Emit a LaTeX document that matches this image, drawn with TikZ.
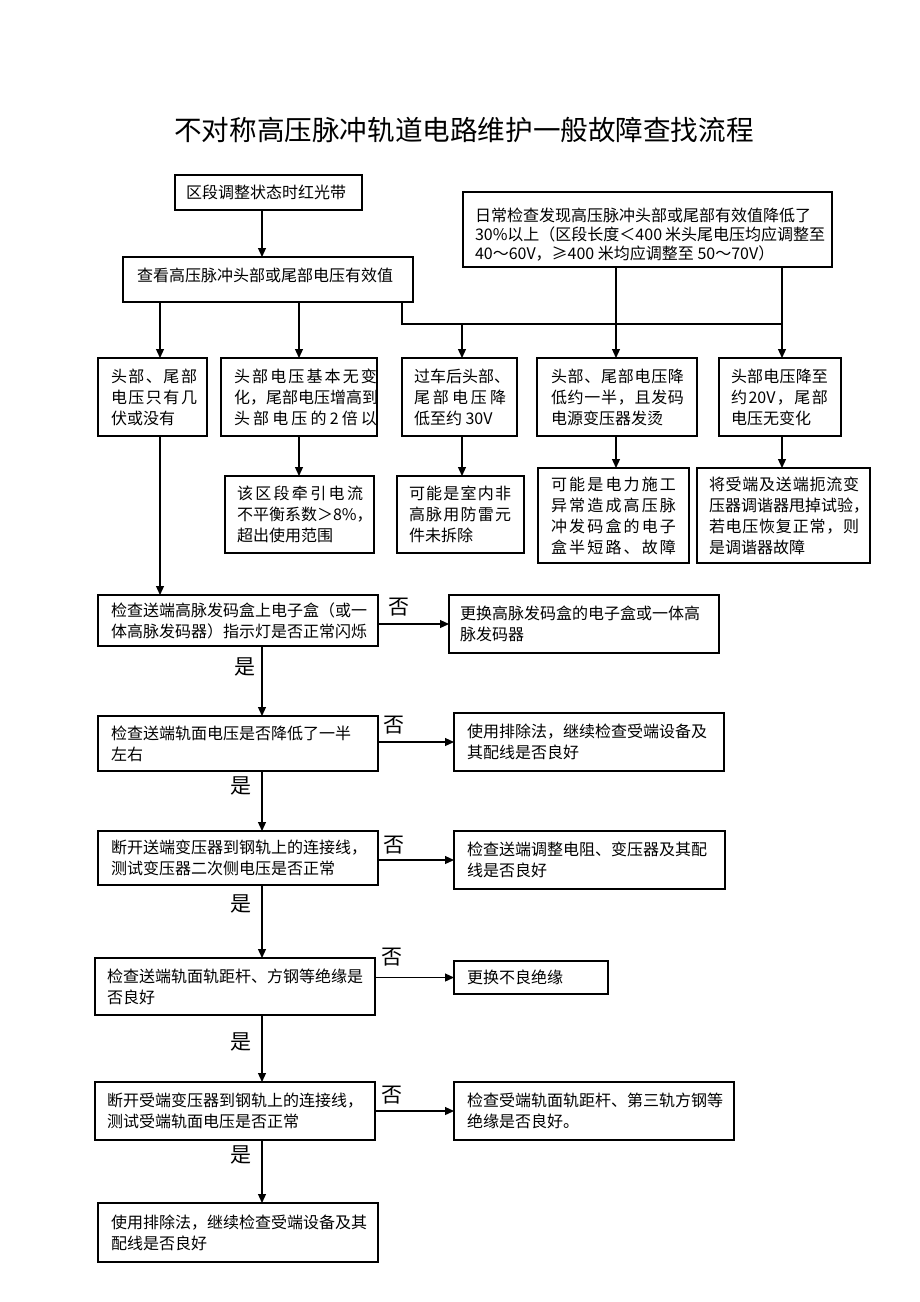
\documentclass[tikz,border=0pt]{standalone}
\usepackage{fontspec}
\setmainfont{Noto Sans CJK SC}
\usetikzlibrary{arrows.meta}
\makeatletter
\def\jl#1{\hbox to \hsize{\jl@a#1\@nil}}
\def\jl@a#1#2\@nil{#1\ifx\relax#2\relax\else\hfil\jl@a#2\@nil\fi}
\makeatother
\newcommand\nl[1]{\hbox to \hsize{#1\hfil}}
\newcommand\mkframe[5]{\node[frame,anchor=north west,minimum width={#4-#2},minimum height={#5-#3}] (#1) at (#2,#3) {};}
\newcommand\mktext[5]{\node[txt,anchor=west,yshift=#4pt] (t#1) at ([xshift=#2pt]#1.west) {\vbox{\hsize=#3pt #5}};}
\tikzset{
  frame/.style={draw=black,line width=1.2pt,inner sep=0pt,outer sep=0pt},
  txt/.style={inner sep=0pt,outer sep=0pt,font=\fontsize{16}{21}\selectfont},
  arr/.style={line width=1.2pt,-{Triangle[length=9pt,width=8pt]}},
  conn/.style={line width=1.2pt},
  lab/.style={inner sep=0pt,font=\fontsize{21}{22}\selectfont}
}
\begin{document}
\begin{tikzpicture}[x=1pt,y=-1pt]
\useasboundingbox[fill=white] (0,0) rectangle (920,1302);
\node (title) at (464,130) {\fontsize{27.6}{30}\selectfont 不对称高压脉冲轨道电路维护一般故障查找流程};
% frames
\mkframe{A}{175}{175}{362}{210}
\mkframe{B}{463}{192}{832}{267}
\mkframe{C}{123}{257}{413}{302}
\mkframe{Q1}{98}{358}{207}{436}
\mkframe{Q2}{221}{358}{377}{436}
\mkframe{Q3}{402}{358}{517}{436}
\mkframe{Q4}{537}{358}{697}{436}
\mkframe{Q5}{719}{358}{841}{436}
\mkframe{S2}{225}{476}{374}{553}
\mkframe{S3}{397}{476}{524}{553}
\mkframe{S4}{538}{468}{689}{563}
\mkframe{S5}{697}{468}{870}{563}
\mkframe{D1}{98}{595}{378}{646}
\mkframe{R1}{449}{595}{719}{653}
\mkframe{D2}{98}{716}{378}{771}
\mkframe{R2}{454}{713}{724}{771}
\mkframe{D3}{98}{831}{378}{885}
\mkframe{R3}{454}{831}{725}{889}
\mkframe{D4}{95}{958}{375}{1015}
\mkframe{R4}{454}{961}{608}{994}
\mkframe{D5}{95}{1082}{375}{1140}
\mkframe{R5}{454}{1082}{734}{1140}
\mkframe{F}{98}{1203}{378}{1262}
% texts
\mktext{A}{11}{170}{0}{\nl{区段调整状态时红光带}}
\mktext{B}{12}{350}{-5}{\baselineskip=19pt \nl{日常检查发现高压脉冲头部或尾部有效值降低了}\nl{30\%以上（区段长度＜400 米头尾电压均应调整至}\nl{40～60V，≥400 米均应调整至 50～70V）}}
\mktext{C}{14}{270}{4}{\nl{查看高压脉冲头部或尾部电压有效值}}
\mktext{Q1}{13}{86}{0}{\jl{头部、尾部}\jl{电压只有几}\nl{伏或没有}}
\mktext{Q2}{13}{143}{0}{\jl{头部电压基本无变}\jl{化，尾部电压增高到}\jl{头部电压的2倍以}}
\mktext{Q3}{12}{92}{0}{\jl{过车后头部、}\jl{尾部电压降}\nl{低至约 30V}}
\mktext{Q4}{14}{133}{0}{\jl{头部、尾部电压降}\jl{低约一半，且发码}\nl{电源变压器发烫}}
\mktext{Q5}{12}{97}{0}{\jl{头部电压降至}\jl{约{20V}，尾部}\nl{电压无变化}}
\mktext{S2}{12}{126}{0}{\jl{该区段牵引电流}\jl{不平衡系数＞{8\%}，}\nl{超出使用范围}}
\mktext{S3}{12}{102}{0}{\jl{可能是室内非}\jl{高脉用防雷元}\nl{件未拆除}}
\mktext{S4}{13}{125}{0}{\jl{可能是电力施工}\jl{异常造成高压脉}\jl{冲发码盒的电子}\jl{盒半短路、故障}}
\mktext{S5}{12}{150}{0}{\jl{将受端及送端扼流变}\jl{压器调谐器甩掉试验，}\jl{若电压恢复正常，则}\nl{是调谐器故障}}
\mktext{D1}{13}{262}{0}{\nl{检查送端高脉发码盒上电子盒（或一}\nl{体高脉发码器）指示灯是否正常闪烁}}
\mktext{R1}{11}{250}{0}{\nl{更换高脉发码盒的电子盒或一体高}\nl{脉发码器}}
\mktext{D2}{13}{262}{0}{\nl{检查送端轨面电压是否降低了一半}\nl{左右}}
\mktext{R2}{13}{250}{0}{\nl{使用排除法，继续检查受端设备及}\nl{其配线是否良好}}
\mktext{D3}{13}{262}{0}{\nl{断开送端变压器到钢轨上的连接线，}\nl{测试变压器二次侧电压是否正常}}
\mktext{R3}{13}{250}{0}{\nl{检查送端调整电阻、变压器及其配}\nl{线是否良好}}
\mktext{D4}{12}{262}{0}{\nl{检查送端轨面轨距杆、方钢等绝缘是}\nl{否良好}}
\mktext{R4}{13}{130}{0}{\nl{更换不良绝缘}}
\mktext{D5}{12}{262}{0}{\nl{断开受端变压器到钢轨上的连接线，}\nl{测试受端轨面电压是否正常}}
\mktext{R5}{13}{262}{0}{\nl{检查受端轨面轨距杆、第三轨方钢等}\nl{绝缘是否良好。}}
\mktext{F}{13}{262}{0}{\nl{使用排除法，继续检查受端设备及其}\nl{配线是否良好}}
% coordinates for columns
\coordinate (x160) at (160,0);
\coordinate (x262) at (262,0);
\coordinate (x299) at (299,0);
\coordinate (x402) at (402,0);
\coordinate (x462) at (462,0);
\coordinate (x616) at (616,0);
\coordinate (x782) at (782,0);
\coordinate (jr) at (782,324);
% connectors top
\draw[arr] (x262 |- A.south) -- (x262 |- C.north);
\draw[arr] (x160 |- C.south) -- (x160 |- Q1.north);
\draw[arr] (x299 |- C.south) -- (x299 |- Q2.north);
\draw[conn] (x402 |- C.south) |- (jr);
\draw[arr] (x462 |- jr) -- (x462 |- Q3.north);
\draw[arr] (x616 |- B.south) -- (x616 |- Q4.north);
\draw[arr] (x782 |- B.south) -- (x782 |- Q5.north);
\draw[arr] (x299 |- Q2.south) -- (x299 |- S2.north);
\draw[arr] (x462 |- Q3.south) -- (x462 |- S3.north);
\draw[arr] (x616 |- Q4.south) -- (x616 |- S4.north);
\draw[arr] (x782 |- Q5.south) -- (x782 |- S5.north);
\draw[arr] (x160 |- Q1.south) -- (x160 |- D1.north);
% main column
\draw[arr] (x262 |- D1.south) -- (x262 |- D2.north);
\draw[arr] (x262 |- D2.south) -- (x262 |- D3.north);
\draw[arr] (x262 |- D3.south) -- (x262 |- D4.north);
\draw[arr] (x262 |- D4.south) -- (x262 |- D5.north);
\draw[arr] (x262 |- D5.south) -- (x262 |- F.north);
% no branches
\draw[arr] (D1.east |- R1.west) -- (R1.west);
\draw[arr] (D2.east |- R2.west) -- (R2.west);
\draw[arr] (D3.east |- R3.west) -- (R3.west);
\draw[arr] (D4.east |- R4.west) -- (R4.west);
\draw[arr] (D5.east |- R5.west) -- (R5.west);
% labels
\node[lab] (n1) at (399,607) {否};
\node[lab] (n2) at (394,725) {否};
\node[lab] (n3) at (394,845) {否};
\node[lab] (n4) at (392,957) {否};
\node[lab] (n5) at (392,1095) {否};
\node[lab] (y1) at (245,667) {是};
\node[lab] (y2) at (241,786) {是};
\node[lab] (y3) at (241,904) {是};
\node[lab] (y4) at (241,1042) {是};
\node[lab] (y5) at (241,1155) {是};
\end{tikzpicture}
\end{document}
